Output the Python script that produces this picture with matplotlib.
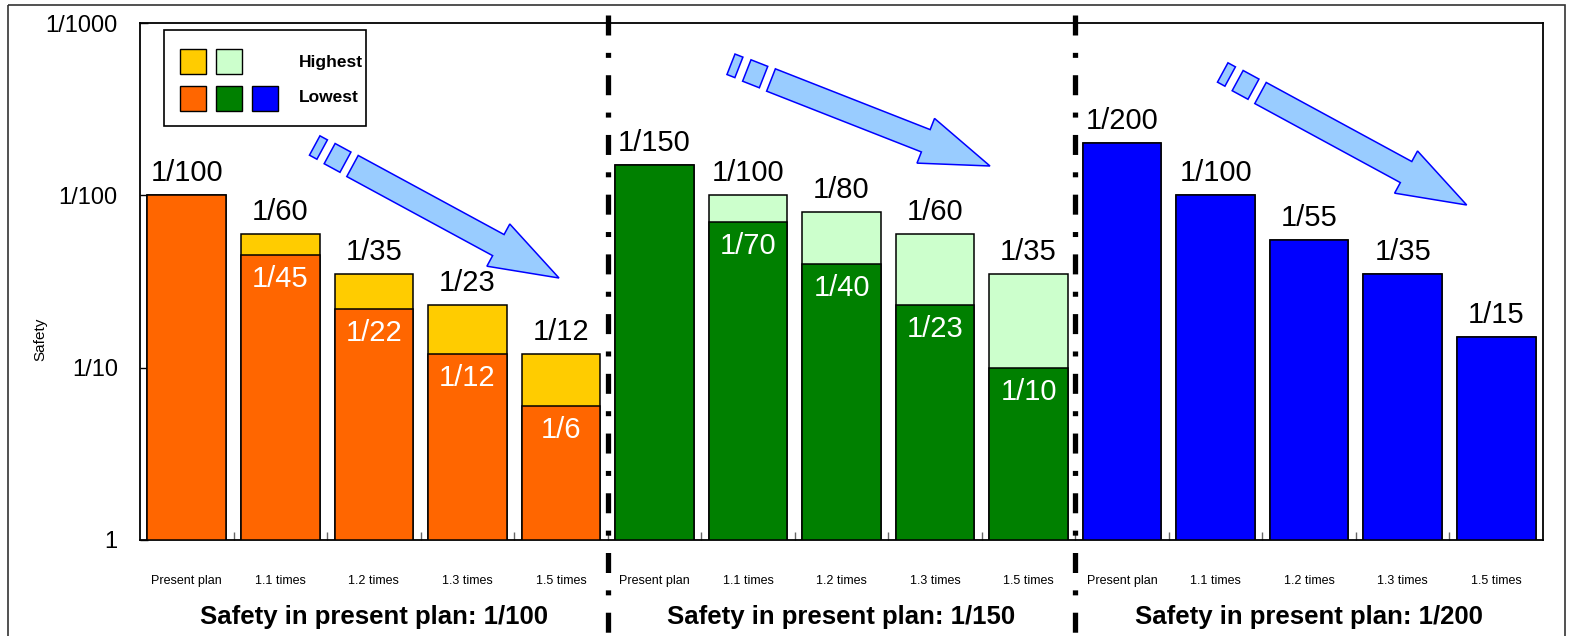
import numpy as np
import matplotlib
matplotlib.use("Agg")
import matplotlib.pyplot as plt
from matplotlib.patches import Rectangle, Polygon
from matplotlib.lines import Line2D
from matplotlib.ticker import FixedLocator, NullLocator
from matplotlib.transforms import Affine2D, blended_transform_factory

plt.rcParams['font.family'] = ['Liberation Sans', 'DejaVu Sans']
plt.rcParams['lines.scale_dashes'] = False

# safety level (return period) per design case
plans = ["Present plan", "1.1 times", "1.2 times", "1.3 times", "1.5 times"]
present_safety = [100, 150, 200]

highest_100 = [100, 60, 35, 23, 12]
lowest_100 = [100, 45, 22, 12, 6]
highest_150 = [150, 100, 80, 60, 35]
lowest_150 = [150, 70, 40, 23, 10]
highest_200 = [200, 100, 55, 35, 15]
lowest_200 = [200, 100, 55, 35, 15]

y_ticks = [1, 10, 100, 1000]
y_tick_labels = ["1", "1/10", "1/100", "1/1000"]

ORANGE, YELLOW = "#FF6600", "#FFCC00"
GREEN, LIGHT_GREEN = "#008000", "#CCFFCC"
BLUE = "#0000FF"

groups = [
    (highest_100, lowest_100, YELLOW, ORANGE),
    (highest_150, lowest_150, LIGHT_GREEN, GREEN),
    (highest_200, lowest_200, BLUE, BLUE),
]

W, H = 1572, 636
fig = plt.figure(figsize=(W / 100, H / 100), dpi=100)
ax = fig.add_axes([140 / W, 96 / H, 1403 / W, 517 / H])
# pixel coordinates measured from the top-left corner of the figure
px = Affine2D().scale(1 / W, -1 / H).translate(0, 1) + fig.transFigure

n = len(plans)
bar_w = 0.84
for g, (hi, lo, c_hi, c_lo) in enumerate(groups):
    x = np.arange(n) + n * g
    hi = np.array(hi)
    lo = np.array(lo)
    ax.bar(x, hi - 1, bottom=1, width=bar_w, color=c_hi, edgecolor="black", linewidth=1.1, zorder=2)
    ax.bar(x, lo - 1, bottom=1, width=bar_w, color=c_lo, edgecolor="black", linewidth=1.1, zorder=3)
    for xi, h, l in zip(x, hi, lo):
        ax.annotate("1/%d" % h, (xi, h), xytext=(0, 22), textcoords="offset pixels",
                    ha="center", va="center", fontsize=21, zorder=5)
        if l < h:
            ax.annotate("1/%d" % l, (xi, l), xytext=(0, -24), textcoords="offset pixels",
                        ha="center", va="center", fontsize=21, color="white", zorder=5)

ax.set_yscale("log")
ax.set_ylim(1, 1000)
ax.set_xlim(-0.5, 3 * n - 0.5)

ax.yaxis.set_major_locator(FixedLocator(y_ticks))
ax.yaxis.set_minor_locator(NullLocator())
ax.set_yticklabels(y_tick_labels)
ax.tick_params(axis="y", direction="in", length=6, width=1, labelsize=17, pad=16)

ax.set_xticks(np.arange(3 * n))
ax.set_xticklabels(plans * 3)
ax.set_xticks(np.arange(1, 3 * n) - 0.5, minor=True)
ax.tick_params(axis="x", which="major", length=0, labelsize=9, pad=25)
ax.tick_params(axis="x", which="minor", direction="in", length=6, width=1, color="#666666")

ax.set_ylabel("Safety", fontsize=11)
ax.yaxis.set_label_coords(-0.066, 0.389)

for s in ax.spines.values():
    s.set_linewidth(1.3)

# group captions under the tick labels
for g, s in enumerate(present_safety):
    ax.text(n * g + (n - 1) / 2, -0.149, "Safety in present plan: 1/%d" % s,
            transform=ax.get_xaxis_transform(), ha="center", va="center",
            fontsize=18.5, fontweight="bold")

# dash-dot separators between groups
sep_tr = blended_transform_factory(ax.transData, px)
for xs in [n - 0.5, 2 * n - 0.5]:
    ln = Line2D([xs, xs], [15, 640], transform=sep_tr, color="black", linewidth=3.8,
                linestyle=(0, (14.4, 12.5, 3.6, 12.5)),
                solid_capstyle="butt", dash_capstyle="butt", clip_on=False, zorder=6)
    fig.add_artist(ln)


def trend_arrow(tail, tip, body=24, head_w=48, head_l=69):
    t = np.array(tail, float)
    p = np.array(tip, float)
    L = np.hypot(*(p - t))
    u = (p - t) / L
    v = np.array([-u[1], u[0]])
    b = t + u * (L - head_l)
    pts = [t + v * body / 2, b + v * body / 2, b + v * head_w / 2, p,
           b - v * head_w / 2, b - v * body / 2, t - v * body / 2]
    fig.add_artist(Polygon(pts, closed=True, transform=px, facecolor="#99CCFF",
                           edgecolor=BLUE, linewidth=1.1, zorder=7))
    for a0, a1, w in [(-8, -26, 23), (-34.5, -43, 22)]:
        c0 = t + u * a0
        c1 = t + u * a1
        q = [c0 + v * w / 2, c1 + v * w / 2, c1 - v * w / 2, c0 - v * w / 2]
        fig.add_artist(Polygon(q, closed=True, transform=px, facecolor="#99CCFF",
                               edgecolor=BLUE, linewidth=1.1, zorder=7))


for tail, tip in [((352.5, 166), (559, 278)), ((771, 80), (990, 166)), ((1260.5, 93), (1466.7, 205))]:
    trend_arrow(tail, tip)

# legend box
fig.add_artist(Rectangle((164, 30), 202, 96, transform=px, facecolor="white",
                         edgecolor="black", linewidth=1.2, zorder=8))
for (lx, ly), c in zip([(180, 49), (216, 49), (180, 86), (216, 86), (252, 86)],
                       [YELLOW, LIGHT_GREEN, ORANGE, GREEN, BLUE]):
    fig.add_artist(Rectangle((lx, ly), 26, 25, transform=px, facecolor=c,
                             edgecolor="black", linewidth=1.0, zorder=9))
fig.text(299, 62, "Highest", transform=px, ha="left", va="center", fontsize=12.5,
         fontweight="bold", zorder=9)
fig.text(299, 98, "Lowest", transform=px, ha="left", va="center", fontsize=12.5,
         fontweight="bold", zorder=9)

# outer frame
fig.add_artist(Rectangle((8, 5), 1557, 640, transform=px, facecolor="none",
                         edgecolor="#333333", linewidth=1.2, clip_on=False, zorder=1))

fig.savefig("out.png", dpi=100)
